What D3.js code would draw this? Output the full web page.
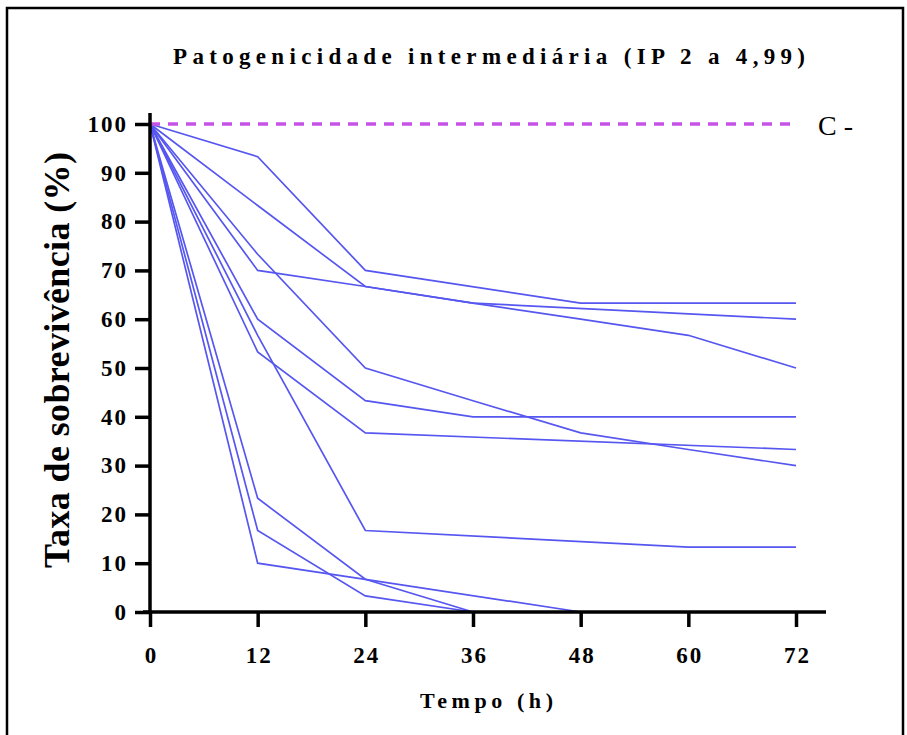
<!DOCTYPE html>
<html lang="pt">

<head>
    <meta charset="UTF-8" />
    <title>Patogenicidade intermediária</title>
    <style>
        body { margin: 0; background: #fff; }
        svg text { font-family: "Liberation Serif", "Times New Roman", serif; }
    </style>
</head>

<body>
    <div id="container"></div>
</body>
<script src="https://cdnjs.cloudflare.com/ajax/libs/d3/7.8.5/d3.min.js"></script>
<script>
    // dados (null = sem ponto)
    const times = [0, 12, 24, 36, 48, 60, 72]
    const xTicks = [0, 12, 24, 36, 48, 60, 72]
    const yTicks = [0, 10, 20, 30, 40, 50, 60, 70, 80, 90, 100]
    const controle = [100, 100, 100, 100, 100, 100, 100]
    const s1 = [100, 93.3, 70, null, 63.3, 63.3, 63.3]
    const s2 = [100, 83.3, 66.7, 63.3, null, null, 60]
    const s3 = [100, 70, 66.7, 63.3, 60, 56.7, 50]
    const s4 = [100, 73.3, 50, 43.3, 36.7, 33.3, 30]
    const s5 = [100, 60, 43.3, 40, 40, 40, 40]
    const s6 = [100, 53.3, 36.7, null, null, null, 33.3]
    const s7 = [100, 56.7, 16.7, null, null, 13.3, 13.3]
    const s8 = [100, 23.3, 6.7, 0, null, null, null]
    const s9 = [100, 16.7, 3.3, 0, null, null, null]
    const s10 = [100, 10, 6.7, null, 0, null, null]
    const series = [s1, s2, s3, s4, s5, s6, s7, s8, s9, s10]

    const W = 907, H = 735
    const svg = d3.select('#container').append('svg').attr('width', W).attr('height', H)

    // moldura
    svg.append('rect').attr('x', 7).attr('y', 8).attr('width', 896).attr('height', 760)
        .attr('fill', 'none').attr('stroke', '#000').attr('stroke-width', 2.5)

    const x = d3.scaleLinear().domain([0, 72]).range([150, 796])
    const y = d3.scaleLinear().domain([0, 100]).range([612, 124])

    // pontos sem null, ligados como no GraphPad
    const pts = arr => times.map((t, i) => [t, arr[i]]).filter(d => d[1] !== null)
    const line = d3.line().x(d => x(d[0])).y(d => y(d[1]))

    const g = svg.append('g')
    g.selectAll('path.serie').data(series).enter().append('path')
        .attr('class', 'serie')
        .attr('d', d => line(pts(d)))
        .attr('fill', 'none')
        .attr('stroke', '#5656f0')
        .attr('stroke-width', 1.7)

    g.append('path').attr('d', line(pts(controle)))
        .attr('fill', 'none')
        .attr('stroke', '#c653e6')
        .attr('stroke-width', 3.5)
        .attr('stroke-dasharray', '10,8')

    // eixos
    const yAxis = svg.append('g').attr('transform', `translate(${x(0)},0)`)
        .call(d3.axisLeft(y).tickValues(yTicks).tickSize(15).tickSizeOuter(0).tickPadding(9))
    yAxis.select('.domain').remove()
    yAxis.selectAll('.tick line').attr('stroke', '#000').attr('stroke-width', 3.5)
    yAxis.selectAll('.tick text')
        .attr('font-size', 23).attr('font-weight', 'bold').attr('letter-spacing', 2)
        .attr('dx', 2).attr('fill', '#000')
        .style('font-family', '"Liberation Serif", serif')
    yAxis.append('line').attr('x1', 0).attr('x2', 0).attr('y1', y(0)).attr('y2', y(100) - 11)
        .attr('stroke', '#000').attr('stroke-width', 3.5)

    const xAxis = svg.append('g').attr('transform', `translate(0,${y(0)})`)
        .call(d3.axisBottom(x).tickValues(xTicks).tickSize(15).tickSizeOuter(0).tickPadding(20))
    xAxis.select('.domain').remove()
    xAxis.selectAll('.tick line').attr('stroke', '#000').attr('stroke-width', 3.5)
    xAxis.selectAll('.tick text')
        .attr('font-size', 23).attr('font-weight', 'bold').attr('letter-spacing', 2)
        .attr('dx', 1).attr('fill', '#000')
        .style('font-family', '"Liberation Serif", serif')
    xAxis.append('line').attr('x1', x(0) - 7).attr('x2', x(72) + 30).attr('y1', 0).attr('y2', 0)
        .attr('stroke', '#000').attr('stroke-width', 3.5)

    // textos
    svg.append('text').text('Patogenicidade intermediária (IP 2 a 4,99)')
        .attr('x', 173).attr('y', 64)
        .attr('textLength', 632).attr('lengthAdjust', 'spacing')
        .attr('font-size', 23).attr('font-weight', 'bold')

    svg.append('text').text('Tempo (h)')
        .attr('x', 420).attr('y', 708)
        .attr('textLength', 133).attr('lengthAdjust', 'spacing')
        .attr('font-size', 22).attr('font-weight', 'bold')

    svg.append('text').text('Taxa de sobrevivência (%)')
        .attr('transform', 'translate(69,568) rotate(-90)')
        .attr('textLength', 416).attr('lengthAdjust', 'spacing')
        .attr('font-size', 36).attr('font-weight', 'bold')

    svg.append('text').text('C -')
        .attr('x', x(72) + 22).attr('y', y(100) + 11)
        .attr('font-size', 28)
</script>

</html>
